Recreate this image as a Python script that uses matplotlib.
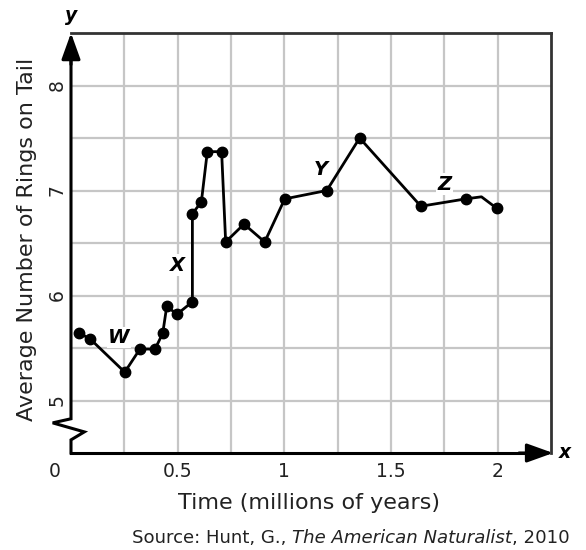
"""
Lizard tail rings over time (Hunt 2010) - recreated figure.
"""

import matplotlib as mpl
import matplotlib.pyplot as plt

mpl.use("Agg")

# data
time = [0.038, 0.088, 0.252, 0.323, 0.394, 0.430, 0.449, 0.496, 0.569, 0.569,
        0.611, 0.639, 0.706, 0.725, 0.811, 0.908, 1.002, 1.199, 1.353, 1.640,
        1.850, 1.924, 1.996]
rings = [5.64, 5.59, 5.27, 5.49, 5.49, 5.64, 5.90, 5.82, 5.94, 6.78,
         6.89, 7.37, 7.37, 6.51, 6.68, 6.51, 6.92, 7.00, 7.50, 6.85,
         6.92, 6.94, 6.83]
no_marker = [21]  # vertex drawn without a dot

point_labels = ["W", "X", "Y", "Z"]
label_x = [0.225, 0.497, 1.17, 1.75]
label_y = [5.60, 6.29, 7.20, 7.06]

xticks = [0.5, 1, 1.5, 2]
xtick_labels = ["0.5", "1", "1.5", "2"]
yticks = [5, 6, 7, 8]


def main():
    mpl.rcParams["font.family"] = "DejaVu Sans"

    fig = plt.figure(figsize=(5.86, 5.5), dpi=100)
    ax = fig.add_axes([71 / 586, 1 - 453 / 550, 480 / 586, 420 / 550])
    ax.set_xlim(0, 2.25)
    ax.set_ylim(4.5, 8.5)

    for s in ax.spines.values():
        s.set_visible(False)
    ax.set_xticks([])
    ax.set_yticks([])

    grid = "#c6c6c6"
    for i in range(1, 9):
        ax.axvline(i * 0.25, color=grid, lw=1.6, zorder=1)
    for v in [5, 5.5, 6, 6.5, 7, 7.5, 8]:
        ax.axhline(v, color=grid, lw=1.6, zorder=1)

    # frame top / right
    ax.plot([0, 2.25], [8.5, 8.5], color="#333333", lw=2, clip_on=False, zorder=3)
    ax.plot([2.25, 2.25], [4.5, 8.5], color="#333333", lw=2, clip_on=False, zorder=3)

    # x axis with arrow
    ax.plot([0, 2.2], [4.5, 4.5], color="black", lw=2.2, clip_on=False, zorder=4)
    ax.annotate("", xy=(2.26, 4.5), xytext=(2.1, 4.5),
                arrowprops=dict(arrowstyle="-|>,head_length=1.0,head_width=0.36",
                                mutation_scale=16, color="black", lw=2.2,
                                shrinkA=0, shrinkB=0),
                annotation_clip=False, zorder=5)

    # y axis with break
    px_x = 1 / 213.3
    px_y = 1 / 104.4
    brk_x = [0, 0, -18.3 * px_x, 13.3 * px_x, 0, 0]
    brk_y = [8.3, 4.826, 4.787, 4.701, 4.625, 4.5]
    ax.plot(brk_x, brk_y, color="black", lw=2.2, clip_on=False, zorder=4,
            solid_joinstyle="miter")
    ax.annotate("", xy=(0, 8.5), xytext=(0, 8.2),
                arrowprops=dict(arrowstyle="-|>,head_length=1.0,head_width=0.36",
                                mutation_scale=16, color="black", lw=2.2,
                                shrinkA=0, shrinkB=0),
                annotation_clip=False, zorder=5)

    # data
    marks = [i for i in range(len(time)) if i not in no_marker]
    ax.plot(time, rings, color="black", lw=2.0, marker="o", ms=7.5,
            markevery=marks, zorder=6, clip_on=False)

    for t, x, y in zip(point_labels, label_x, label_y):
        ax.text(x, y, t, fontsize=14, fontweight="bold", fontstyle="italic",
                ha="center", va="center", zorder=5,
                bbox=dict(facecolor="white", edgecolor="none", pad=1))

    # tick labels
    for x, t in zip(xticks, xtick_labels):
        ax.text(x, 4.5 - 18.5 * px_y, t, fontsize=13.5, ha="center", va="center",
                color="#222222")
    ax.text(-16 * px_x, 4.5 - 18.5 * px_y, "0", fontsize=13.5, ha="center",
            va="center", color="#222222")
    for y in yticks:
        ax.text(-14 * px_x, y, str(y), fontsize=13.5, ha="center", va="center",
                rotation=90, color="#222222")

    ax.text(2.25 + 14 * px_x, 4.5, "x", fontsize=13.5, fontweight="bold",
            fontstyle="italic", ha="center", va="center")
    ax.text(0, 8.5 + 17 * px_y, "y", fontsize=13.5, fontweight="bold",
            fontstyle="italic", ha="center", va="center")

    fig.text(309 / 586, 1 - 503 / 550, "Time (millions of years)", fontsize=16,
             ha="center", va="center", color="#222222")
    fig.text(27 / 586, 1 - 239 / 550, "Average Number of Rings on Tail",
             fontsize=16, ha="center", va="center", rotation=90, color="#222222")

    # source line with italic journal name, pieces placed one after another
    fs = 13.1
    ypos = 1 - 538 / 550
    t1 = fig.text(132 / 586, ypos, "Source: Hunt, G., ", fontsize=fs,
                  ha="left", va="center", color="#222222")
    fig.canvas.draw()
    r = fig.canvas.get_renderer()
    bb = t1.get_window_extent(r)
    t2 = fig.text(bb.x1 / fig.bbox.width, ypos, "The American Naturalist",
                  fontsize=fs, fontstyle="italic", ha="left", va="center",
                  color="#222222")
    bb2 = t2.get_window_extent(r)
    fig.text(bb2.x1 / fig.bbox.width, ypos, ", 2010", fontsize=fs,
             ha="left", va="center", color="#222222")

    fig.savefig("out.png", dpi=100)


if __name__ == "__main__":
    main()
